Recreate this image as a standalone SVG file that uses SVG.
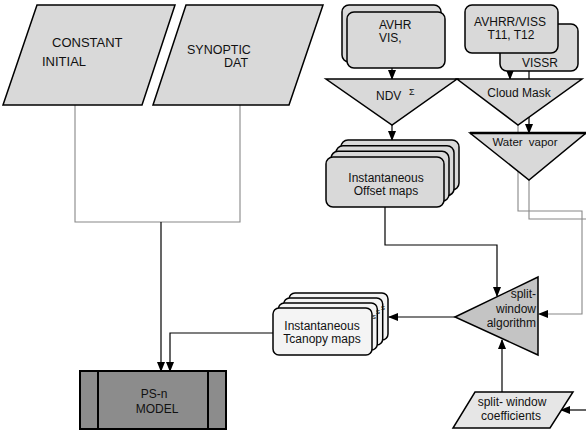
<svg xmlns="http://www.w3.org/2000/svg" width="586" height="434" viewBox="0 0 586 434">
<defs>
<style>
text{font-family:"Liberation Sans",Arial,sans-serif;font-size:12px;fill:#111}
.big{font-size:13px}
.c{text-anchor:middle}
.e{text-anchor:end}
.node{fill:#d9d9d9;stroke:#000;stroke-width:1.5}
.light{fill:#f4f4f4;stroke:#000;stroke-width:1.5}
.ln{fill:none;stroke:#000;stroke-width:1.2}
.gr{fill:none;stroke:#888;stroke-width:1.1}
</style>
<marker id="ah" markerWidth="10" markerHeight="8" refX="9" refY="4" orient="auto" markerUnits="userSpaceOnUse"><path d="M0,0 L10,4 L0,8 z" fill="#000"/></marker>
</defs>
<rect width="586" height="434" fill="#fff"/>
<g id="connectors">
<path class="gr" d="M75,105 V222 H240 V105"/>
<path class="ln" stroke="#444" d="M161,222 V371" marker-end="url(#ah)"/>
<path class="ln" d="M273,333 H170 V371" marker-end="url(#ah)"/>
<path class="ln" d="M392,68 V79" marker-end="url(#ah)"/>
<path class="ln" d="M392,125 V140" marker-end="url(#ah)"/>
<path class="ln" d="M510,53 V79" marker-end="url(#ah)"/>
<path class="ln" d="M529,71 V79"/>
<path class="ln" d="M529,117 V133" marker-end="url(#ah)"/>
<path class="gr" d="M518,125 V211 H582 V314 H539" marker-end="url(#ah)"/>
<path class="gr" d="M529,180 V219 H586"/>
<path class="ln" d="M385,207 V245 H497 V296" marker-end="url(#ah)"/>
<path class="ln" d="M455,317 H389" marker-end="url(#ah)"/>
<path class="ln" d="M502,392 V340" marker-end="url(#ah)"/>
<path class="ln" d="M586,410 H561" marker-end="url(#ah)"/>
</g>
<g id="constant-initial">
<polygon class="node" points="37,5 175,5 142,105 3,105"/>
<text class="big" x="52" y="47">CONSTANT</text>
<text class="big" x="42" y="66">INITIAL</text>
</g>
<g id="synoptic-dat">
<polygon class="node" points="186,5 323,5 289,105 153,105"/>
<text x="187" y="54" style="font-size:12.5px">SYNOPTIC</text>
<text x="224" y="67" style="font-size:12.5px">DAT</text>
</g>
<g id="avhr-vis">
<rect class="node" x="342" y="5" width="99" height="57" rx="7"/>
<rect class="node" x="347" y="12" width="98" height="56" rx="7"/>
<text x="379" y="29">AVHR</text>
<text x="379" y="42">VIS,</text>
</g>
<g id="avhrr-viss">
<rect class="node" x="500" y="24" width="78" height="47" rx="7"/>
<rect class="node" x="465" y="5" width="93" height="48" rx="7"/>
<text class="c" x="510" y="25.5">AVHRR/VISS</text>
<text class="c" x="511" y="39">T11, T12</text>
<text x="522" y="67">VISSR</text>
</g>
<g id="ndvi">
<polygon class="node" points="326,79 457,79 392,125"/>
<text x="376" y="100">NDV</text>
<text x="409" y="95" style="font-size:9px">Σ</text>
</g>
<g id="cloud-mask">
<polygon class="node" points="457,79 582,79 518,125"/>
<text class="c" x="519" y="97">Cloud Mask</text>
</g>
<g id="water-vapor">
<polygon class="node" points="470,133 586,133 529,180"/>
<line x1="470" y1="133" x2="586" y2="133" stroke="#000" stroke-width="2.5"/>
<text class="c" x="525" y="146" style="font-size:11.5px;word-spacing:3px">Water vapor</text>
</g>
<g id="offset-maps">
<rect class="node" x="341" y="140" width="118" height="50" rx="7"/>
<rect class="node" x="336" y="145.7" width="118" height="50" rx="7"/>
<rect class="node" x="331" y="151.3" width="118" height="50" rx="7"/>
<rect class="node" x="326" y="157" width="118" height="50" rx="7"/>
<text class="c" x="386" y="182">Instantaneous</text>
<text class="c" x="386" y="195">Offset maps</text>
</g>
<g id="split-window">
<polygon points="455,317 538,277 538,355" fill="#c4c4c4" stroke="#000" stroke-width="1.5"/>
<text class="e" x="536" y="298">split-</text>
<text class="e" x="536" y="313">window</text>
<text class="e" x="536" y="327">algorithm</text>
</g>
<g id="tcanopy-maps">
<rect class="light" x="289" y="293" width="99" height="47" rx="6"/>
<rect class="light" x="283.7" y="298" width="99" height="47" rx="6"/>
<rect class="light" x="278.3" y="303" width="99" height="47" rx="6"/>
<text x="381" y="310" style="font-size:8px">s</text>
<text x="376" y="314" style="font-size:8px">s</text>
<rect class="light" x="273" y="308" width="99" height="47" rx="6"/>
<text x="372" y="319" style="font-size:8px">s</text>
<text class="c" x="322" y="330">Instantaneous</text>
<text class="c" x="322" y="343">Tcanopy maps</text>
</g>
<g id="coefficients">
<polygon points="475,392 573,392 550,428 453,428" fill="#e6e6e6" stroke="#000" stroke-width="1.5"/>
<text class="c" x="512" y="406">split- window</text>
<text class="c" x="511" y="419.5">coefficients</text>
</g>
<g id="ps-n-model">
<rect x="80" y="371" width="146" height="58" fill="#8c8c8c" stroke="#000" stroke-width="2"/>
<line x1="98" y1="371" x2="98" y2="429" stroke="#000" stroke-width="2"/>
<line x1="208" y1="371" x2="208" y2="429" stroke="#000" stroke-width="2"/>
<text class="c" x="154" y="398">PS-n</text>
<text class="c" x="157" y="413">MODEL</text>
</g>
</svg>
